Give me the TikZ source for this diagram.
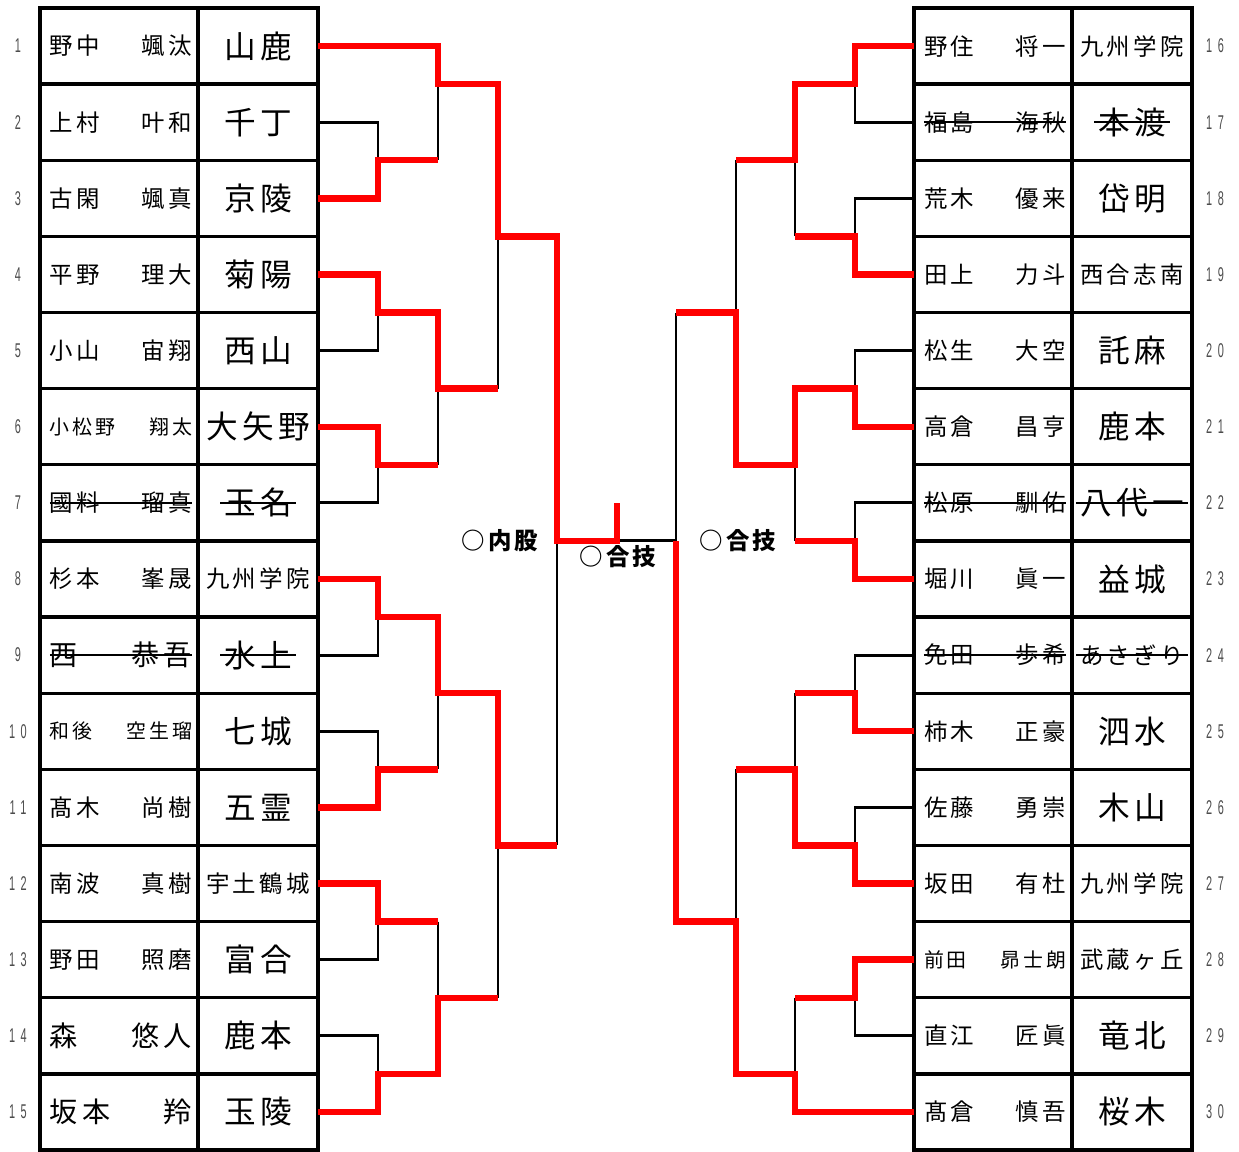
\documentclass[tikz,border=0pt]{standalone}
\usepackage{fontspec}
\usepackage{tikz}
\newfontfamily\jp[LetterSpace=14]{Noto Sans CJK JP}
\newfontfamily\numfont[LetterSpace=50]{Liberation Sans}
\newcommand\nb[1]{\scalebox{0.55}[1]{#1}}
\tikzset{
  namecell/.style={inner sep=0pt,text width=4.26cm,font=\jp\fontsize{20}{22}\selectfont},
  namebig/.style={namecell,font=\jp\fontsize{24}{26}\selectfont},
  namesmall/.style={namecell,font=\jp\fontsize{17}{19}\selectfont},
  schcell/.style={inner xsep=3pt,inner ysep=0pt,font=\jp\fontsize{27}{30}\selectfont},
  schsmall/.style={schcell,font=\jp\fontsize{20}{22}\selectfont},
  numlab/.style={inner sep=0pt,text=black!70,font=\numfont\fontsize{17}{18}\selectfont},
  waza/.style={inner sep=1pt,font=\jp\bfseries\fontsize{20}{22}\selectfont},
  gridline/.style={line width=2.8pt},
  strike/.style={line width=1.2pt},
  loseline/.style={black,line width=2.5pt},
  winline/.style={red,line width=5.5pt},
}
\begin{document}
\begin{tikzpicture}[x=0.03cm,y=-0.03cm]
  \useasboundingbox (0,0) rectangle (1239,1151);
  \draw[gridline] (40,8) rectangle (318,1150) (198,8) -- (198,1150);
  \draw[gridline] (914,8) rectangle (1192,1150) (1072,8) -- (1072,1150);
  \foreach \k in {1,...,14}{
    \pgfmathsetmacro\by{8+76.133*\k}
    \coordinate (b\k) at (0,\by);
    \draw[gridline] (40,\by) -- (318,\by) (914,\by) -- (1192,\by);
  }
  \foreach \i in {1,...,15}{
    \pgfmathsetmacro\ry{8+76.133*(\i-0.5)}
    \pgfmathtruncatemacro\j{\i+15}
    \coordinate (L\i) at (318,\ry);
    \coordinate (R\i) at (914,\ry);
    \node[numlab] (no\i) at (18,\ry) {\nb{\i}};
    \node[numlab] (no\j) at (1215,\ry) {\nb{\j}};
  }
  \coordinate (cA) at (378,0);
  \coordinate (cB) at (438,0);
  \coordinate (cC) at (498,0);
  \coordinate (cD) at (557,0);
  \coordinate (cF) at (617,0);
  \coordinate (dA) at (855,0);
  \coordinate (dB) at (795,0);
  \coordinate (dC) at (736,0);
  \coordinate (dD) at (676,0);

  \node[namecell] (nm1) at (121,46.1) {野中\hfill 颯汰};
  \node[schcell] (sc1) at (258,46.1) {山鹿};
  \node[namecell] (nm2) at (121,122.2) {上村\hfill 叶和};
  \node[schcell] (sc2) at (258,122.2) {千丁};
  \node[namecell] (nm3) at (121,198.3) {古閑\hfill 颯真};
  \node[schcell] (sc3) at (258,198.3) {京陵};
  \node[namecell] (nm4) at (121,274.5) {平野\hfill 理大};
  \node[schcell] (sc4) at (258,274.5) {菊陽};
  \node[namecell] (nm5) at (121,350.6) {小山\hfill 宙翔};
  \node[schcell] (sc5) at (258,350.6) {西山};
  \node[namesmall] (nm6) at (121,426.7) {小松野\hfill 翔太};
  \node[schcell] (sc6) at (258,426.7) {大矢野};
  \node[namecell] (nm7) at (121,502.9) {國料\hfill 瑠真};
  \node[schcell] (sc7) at (258,502.9) {玉名};
  \node[namecell] (nm8) at (121,579.0) {杉本\hfill 峯晟};
  \node[schsmall] (sc8) at (258,579.0) {九州学院};
  \node[namebig] (nm9) at (121,655.1) {西\hfill 恭吾};
  \node[schcell] (sc9) at (258,655.1) {水上};
  \node[namesmall] (nm10) at (121,731.3) {和後\hfill 空生瑠};
  \node[schcell] (sc10) at (258,731.3) {七城};
  \node[namecell] (nm11) at (121,807.4) {髙木\hfill 尚樹};
  \node[schcell] (sc11) at (258,807.4) {五霊};
  \node[namecell] (nm12) at (121,883.5) {南波\hfill 真樹};
  \node[schsmall] (sc12) at (258,883.5) {宇土鶴城};
  \node[namecell] (nm13) at (121,959.7) {野田\hfill 照磨};
  \node[schcell] (sc13) at (258,959.7) {富合};
  \node[namebig] (nm14) at (121,1035.8) {森\hfill 悠人};
  \node[schcell] (sc14) at (258,1035.8) {鹿本};
  \node[namebig] (nm15) at (121,1111.9) {坂本\hfill 羚};
  \node[schcell] (sc15) at (258,1111.9) {玉陵};

  \node[namecell] (nm16) at (995,46.1) {野住\hfill 将一};
  \node[schsmall] (sc16) at (1132,46.1) {九州学院};
  \node[namecell] (nm17) at (995,122.2) {福島\hfill 海秋};
  \node[schcell] (sc17) at (1132,122.2) {本渡};
  \node[namecell] (nm18) at (995,198.3) {荒木\hfill 優来};
  \node[schcell] (sc18) at (1132,198.3) {岱明};
  \node[namecell] (nm19) at (995,274.5) {田上\hfill 力斗};
  \node[schsmall] (sc19) at (1132,274.5) {西合志南};
  \node[namecell] (nm20) at (995,350.6) {松生\hfill 大空};
  \node[schcell] (sc20) at (1132,350.6) {託麻};
  \node[namecell] (nm21) at (995,426.7) {高倉\hfill 昌亨};
  \node[schcell] (sc21) at (1132,426.7) {鹿本};
  \node[namecell] (nm22) at (995,502.9) {松原\hfill 馴佑};
  \node[schcell] (sc22) at (1132,502.9) {八代一};
  \node[namecell] (nm23) at (995,579.0) {堀川\hfill 眞一};
  \node[schcell] (sc23) at (1132,579.0) {益城};
  \node[namecell] (nm24) at (995,655.1) {免田\hfill 歩希};
  \node[schsmall] (sc24) at (1132,655.1) {あさぎり};
  \node[namecell] (nm25) at (995,731.3) {柿木\hfill 正豪};
  \node[schcell] (sc25) at (1132,731.3) {泗水};
  \node[namecell] (nm26) at (995,807.4) {佐藤\hfill 勇崇};
  \node[schcell] (sc26) at (1132,807.4) {木山};
  \node[namecell] (nm27) at (995,883.5) {坂田\hfill 有杜};
  \node[schsmall] (sc27) at (1132,883.5) {九州学院};
  \node[namesmall] (nm28) at (995,959.7) {前田\hfill 昴士朗};
  \node[schsmall] (sc28) at (1132,959.7) {武蔵ヶ丘};
  \node[namecell] (nm29) at (995,1035.8) {直江\hfill 匠眞};
  \node[schcell] (sc29) at (1132,1035.8) {竜北};
  \node[namecell] (nm30) at (995,1111.9) {髙倉\hfill 慎吾};
  \node[schcell] (sc30) at (1132,1111.9) {桜木};

  \foreach \r in {7,9,17,22,24}{
    \draw[strike] (nm\r.west) -- (nm\r.east);
    \draw[strike] (sc\r.west) -- (sc\r.east);
  }

  \node[waza] (w1) at (500,541) {○内股};
  \node[waza] (w2) at (618,557) {○合技};
  \node[waza] (w3) at (738,541) {○合技};

  \draw[loseline] (L2) -| (cA |- b2);
  \draw[loseline] (cB |- b2) -- (cB |- b1);
  \draw[loseline] (L5) -| (cA |- b4);
  \draw[loseline] (L7) -| (cA |- b6);
  \draw[loseline] (cB |- b6) -- (cB |- b5);
  \draw[loseline] (cC |- b3) -- (cC |- b5);
  \draw[loseline] (L9) -| (cA |- b8);
  \draw[loseline] (L10) -| (cA |- b10);
  \draw[loseline] (cB |- b9) -- (cB |- b10);
  \draw[loseline] (L13) -| (cA |- b12);
  \draw[loseline] (L14) -| (cA |- b14);
  \draw[loseline] (cB |- b12) -- (cB |- b13);
  \draw[loseline] (cC |- b11) -- (cC |- b13);
  \draw[loseline] (cD |- b7) -- (cD |- b11);
  \draw[loseline] (cF |- b7) -- (dD |- b7);
  \draw[loseline] (R2) -| (dA |- b1);
  \draw[loseline] (R3) -| (dA |- b3);
  \draw[loseline] (dB |- b2) -- (dB |- b3);
  \draw[loseline] (R5) -| (dA |- b5);
  \draw[loseline] (R7) -| (dA |- b7);
  \draw[loseline] (dB |- b6) -- (dB |- b7);
  \draw[loseline] (dC |- b2) -- (dC |- b4);
  \draw[loseline] (dD |- b4) -- (dD |- b7);
  \draw[loseline] (R9) -| (dA |- b9);
  \draw[loseline] (R11) -| (dA |- b11);
  \draw[loseline] (dB |- b9) -- (dB |- b10);
  \draw[loseline] (R14) -| (dA |- b13);
  \draw[loseline] (dB |- b13) -- (dB |- b14);
  \draw[loseline] (dC |- b10) -- (dC |- b12);

  \draw[winline] (L1) -| (cB |- b1) -| (cC |- b3) -| (cD |- b7) -| (cF |- L7);
  \draw[winline] (L3) -| (cA |- b2) -- (cB |- b2);
  \draw[winline] (L4) -| (cA |- b4) -| (cB |- b5) -- (cC |- b5);
  \draw[winline] (L6) -| (cA |- b6) -- (cB |- b6);
  \draw[winline] (L8) -| (cA |- b8) -| (cB |- b9) -| (cC |- b11) -- (cD |- b11);
  \draw[winline] (L11) -| (cA |- b10) -- (cB |- b10);
  \draw[winline] (L12) -| (cA |- b12) -- (cB |- b12);
  \draw[winline] (L15) -| (cA |- b14) -| (cB |- b13) -- (cC |- b13);
  \draw[winline] (R1) -| (dA |- b1) -| (dB |- b2) -- (dC |- b2);
  \draw[winline] (R4) -| (dA |- b3) -- (dB |- b3);
  \draw[winline] (R6) -| (dA |- b5) -| (dB |- b6) -| (dC |- b4) -- (dD |- b4);
  \draw[winline] (R8) -| (dA |- b7) -- (dB |- b7);
  \draw[winline] (R10) -| (dA |- b9) -- (dB |- b9);
  \draw[winline] (R12) -| (dA |- b11) -| (dB |- b10) -- (dC |- b10);
  \draw[winline] (R13) -| (dA |- b13) -- (dB |- b13);
  \draw[winline] (R15) -| (dB |- b14) -| (dC |- b12) -| (dD |- b7);
\end{tikzpicture}
\end{document}
